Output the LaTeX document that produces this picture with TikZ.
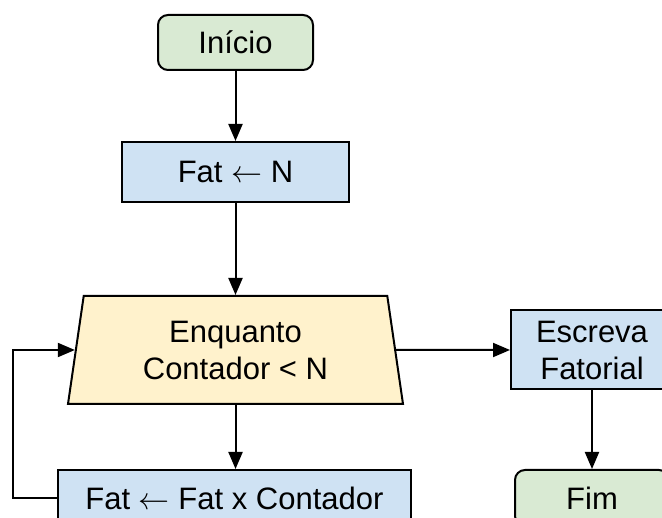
\RequirePackage{fix-cm}
\documentclass[tikz,border=0pt]{standalone}
\usepackage{fontspec}
\setmainfont{Liberation Sans}
\usetikzlibrary{arrows.meta,shapes.geometric}
\definecolor{startfill}{HTML}{D9EAD3}
\definecolor{procfill}{HTML}{CFE2F3}
\definecolor{loopfill}{HTML}{FFF2CC}
\newcommand{\assign}{\ensuremath{\leftarrow}}
\begin{document}
\begin{tikzpicture}[x=1pt,y=-1pt,
  box/.style={draw=black, line width=2pt, text=black,
    font=\fontsize{31}{37}\selectfont, align=center, inner sep=0pt},
  terminal/.style={box, fill=startfill, rounded corners=10pt},
  process/.style={box, fill=procfill},
  loopshape/.style={box, fill=loopfill, trapezium,
    trapezium left angle=75, trapezium right angle=75,
    trapezium stretches body},
  flow/.style={line width=2pt, -{Triangle[length=17pt,width=14pt]}}]

\useasboundingbox (0,0) rectangle (662,518);
\clip (0,0) rectangle (662,518);

% blocks of the flowchart
\node[terminal, minimum width=155, minimum height=55] (inicio) at (235.5,42.5) {Início};
\node[process, minimum width=227, minimum height=60] (fatn) at (235.5,172) {Fat \assign{} N};
\node[loopshape, minimum width=335, minimum height=108] (loop) at (235.5,350) {Enquanto\\Contador < N};
\node[process, minimum width=162, minimum height=79] (escreva) at (592,350) {Escreva\\Fatorial};
\node[process, minimum width=353, minimum height=56] (calc) at (234.5,498) {Fat \assign{} Fat x Contador};
\node[terminal, minimum width=154, minimum height=56] (fim) at (592,498) {Fim};

% connectors
\draw[flow] (inicio) -- (fatn);
\draw[flow] (fatn) -- (loop);
\draw[flow] (loop.south) -- (loop.south |- calc.north);
\draw[flow] (loop.east) -- (escreva.west);
\draw[flow] (escreva) -- (fim);
\draw[flow] (calc.west) -- ++(-44,0) |- (loop.west);
\end{tikzpicture}
\end{document}
